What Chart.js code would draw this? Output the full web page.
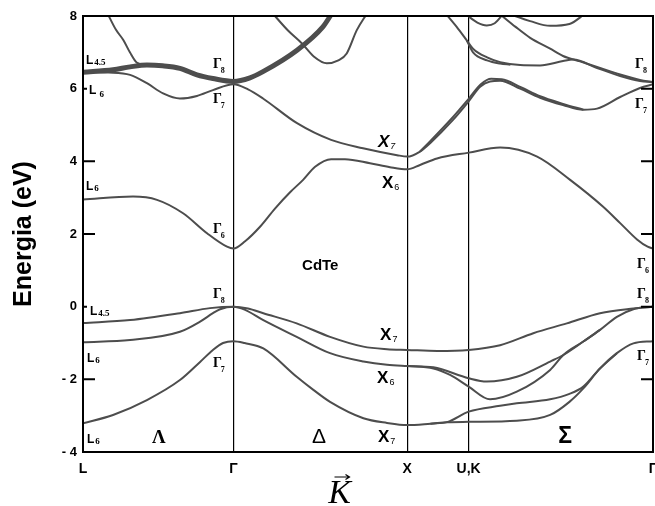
<!DOCTYPE html>
<html>
<head>
<meta charset="utf-8">
<script src="https://cdn.jsdelivr.net/npm/chart.js@4.4.0/dist/chart.umd.min.js"></script>
<style>
  html, body { margin: 0; padding: 0; background: #fff; }
  #caja { width: 655px; height: 506px; }
</style>
</head>
<body>
<div id="caja"><canvas id="bandas" width="655" height="506"></canvas></div>
<script>
// camino en k (unidades de 2pi/a): L - Gamma - X - U,K - Gamma
const kPuntos = [0, 0.866, 1.866, 2.220, 3.281];
const kNombres = ['L', 'Γ', 'X', 'U,K', 'Γ'];
const eTicks = [8, 6, 4, 2, 0, -2, -4];
const ticksCortos = [6, 0];

/****************** bandas de valencia ******************/
const vHH = [[0,-0.45],[0.271,-0.37],[0.558,-0.18],[0.731,-0.04],[0.866,0],
  [0.95,-0.05],[1.038,-0.18],[1.230,-0.46],[1.422,-0.83],[1.614,-1.10],[1.75,-1.17],[1.866,-1.19],
  [2.04,-1.22],[2.22,-1.19],[2.401,-1.06],[2.592,-0.73],[2.785,-0.46],[2.976,-0.18],[3.168,-0.05],[3.281,0]];
const vLHa = [[0,-0.98],[0.271,-0.92],[0.558,-0.69],[0.674,-0.41],[0.748,-0.18],[0.789,-0.07],[0.866,0],
  [0.93,-0.08],[1.038,-0.37],[1.230,-0.83],[1.422,-1.28],[1.614,-1.51],[1.75,-1.6],[1.866,-1.63],
  [2.017,-1.67],[2.22,-1.97],[2.324,-2.06],[2.497,-1.93],[2.689,-1.51],[2.765,-1.33],
  [2.880,-0.96],[2.976,-0.64],[3.073,-0.28],[3.168,-0.07],[3.281,0]];
const vLHb = [[1.866,-1.63],[2.017,-1.70],[2.113,-1.88],[2.22,-2.2],[2.343,-2.55],[2.497,-2.34],
  [2.689,-1.74],[2.765,-1.33],[2.880,-0.96],[2.976,-0.64]];
const vSOa = [[0,-3.21],[0.173,-2.98],[0.368,-2.57],[0.558,-2.02],[0.674,-1.52],[0.748,-1.19],[0.806,-1.0],[0.866,-0.95],
  [0.93,-1.0],[1.038,-1.15],[1.230,-1.93],[1.326,-2.29],[1.422,-2.62],[1.614,-3.07],[1.75,-3.2],[1.866,-3.26],
  [2.0,-3.22],[2.10,-3.18],[2.22,-3.17],[2.497,-3.14],[2.689,-2.98],[2.80,-2.62],[2.88,-2.25],
  [2.976,-1.70],[3.073,-1.28],[3.168,-1.01],[3.281,-0.95]];
const vSOb = [[2.0,-3.22],[2.10,-3.17],[2.22,-2.89],[2.401,-2.73],[2.497,-2.66],[2.689,-2.55],[2.80,-2.40],
  [2.88,-2.2],[2.976,-1.70],[3.073,-1.28]];

/****************** bandas de conduccion ******************/
const c1 = [[0,2.95],[0.288,3.03],[0.426,2.94],[0.576,2.57],[0.714,2.02],[0.829,1.65],[0.866,1.6],
  [0.933,1.8],[1.019,2.2],[1.105,2.7],[1.192,3.15],[1.267,3.49],[1.336,3.85],[1.428,4.06],[1.508,4.06],
  [1.652,3.95],[1.767,3.84],[1.866,3.78],[1.940,3.9],[2.038,4.08],[2.220,4.24],[2.401,4.38],[2.614,4.13],
  [2.804,3.49],[2.994,2.75],[3.092,2.3],[3.189,1.85],[3.250,1.65],[3.281,1.6]];
const c2 = [[0,6.45],[0.173,6.44],[0.271,6.38],[0.368,6.15],[0.461,5.87],[0.558,5.73],[0.656,5.8],[0.748,5.96],[0.866,6.12],
  [0.95,5.98],[1.036,5.73],[1.232,5.05],[1.428,4.59],[1.612,4.36],[1.808,4.17],[1.866,4.13],
  [1.940,4.27],[1.998,4.5],[2.130,5.14],[2.220,5.65],[2.286,6.05],[2.343,6.2],[2.401,6.22],[2.516,6.0],
  [2.631,5.75],[2.763,5.55],[2.880,5.42],[2.959,5.45],[3.092,5.77],[3.206,6.02],[3.281,6.12]];
const c2b = [[1.940,4.27],[2.0,4.56],[2.13,5.22],[2.22,5.72],[2.29,6.12],[2.35,6.27],[2.41,6.26],[2.52,6.04],
  [2.631,5.79],[2.763,5.58],[2.880,5.42]];
const g8 = [[0,6.45],[0.173,6.52],[0.271,6.6],[0.368,6.65],[0.458,6.63],[0.558,6.56],[0.656,6.38],[0.748,6.28],[0.866,6.2],
  [0.961,6.3],[1.036,6.47],[1.232,7.06],[1.382,7.71],[1.43,8.05]];
const cL = [[0.140,8.08],[0.190,7.62],[0.232,7.34],[0.27,7.0],[0.309,6.72],[0.368,6.65]];
const cD = [[1.090,8.08],[1.18,7.6],[1.259,7.25],[1.33,6.88],[1.403,6.7],[1.47,6.78],[1.518,6.97],[1.576,7.61],[1.636,8.08]];
const cU1 = [[2.085,8.08],[2.151,7.70],[2.209,7.33],[2.245,7.1],[2.326,6.86],[2.401,6.73],[2.516,6.65],[2.631,6.64],
  [2.763,6.76],[2.821,6.8],[2.959,6.57],[3.092,6.35],[3.206,6.21],[3.281,6.18]];
const cU1b = [[2.209,7.33],[2.245,7.0],[2.326,6.78],[2.401,6.69],[2.46,6.66]];
const cU2 = [[2.40,8.05],[2.49,7.7],[2.574,7.4],[2.689,7.1],[2.763,6.9],[2.861,6.75],[2.959,6.6],[3.092,6.39],[3.206,6.24],[3.281,6.18]];
const cT1 = [[2.20,8.06],[2.27,7.82],[2.324,7.74],[2.37,7.8],[2.42,8.06]];
const cT2 = [[2.45,8.06],[2.574,7.86],[2.689,7.73],[2.80,7.78],[2.89,8.06]];

// etiquetas de simetria: texto, subindice, k, E, tipo
const etiquetas = [
  ['L', '4.5', 0.017, 6.68, 'L'],
  ['L', '6', 0.035, 5.85, 'L2'],
  ['Γ', '8', 0.748, 6.57, 'G'],
  ['Γ', '7', 0.748, 5.61, 'G'],
  ['L', '6', 0.017, 3.21, 'L'],
  ['Γ', '6', 0.748, 2.03, 'G'],
  ['X', '7', 1.698, 4.39, 'Xi'],
  ['X', '6', 1.721, 3.27, 'X'],
  ['Γ', '8', 3.178, 6.57, 'G'],
  ['Γ', '7', 3.178, 5.47, 'G'],
  ['CdTe', '', 1.261, 1.01, 'T'],
  ['Γ', '6', 3.189, 1.06, 'G'],
  ['Γ', '8', 3.189, 0.24, 'G'],
  ['Γ', '7', 3.189, -1.47, 'G'],
  ['L', '4.5', 0.040, -0.23, 'L'],
  ['Γ', '8', 0.748, 0.24, 'G'],
  ['L', '6', 0.023, -1.52, 'L'],
  ['Γ', '7', 0.748, -1.66, 'G'],
  ['L', '6', 0.023, -3.75, 'L'],
  ['Λ', '', 0.397, -3.75, 'Lam'],
  ['Δ', '', 1.318, -3.75, 'Del'],
  ['X', '7', 1.698, -3.73, 'X'],
  ['X', '7', 1.710, -0.92, 'X'],
  ['X', '6', 1.693, -2.10, 'X'],
  ['Σ', '', 2.735, -3.75, 'Sig']
];

const tipos = {
  L:   { f: 'bold 12px "Liberation Sans"', fs: 'bold 9px "Liberation Serif"', dx: 1, dy: 1 },
  L2:  { f: 'bold 12px "Liberation Sans"', fs: 'bold 9px "Liberation Serif"', dx: 3, dy: 3 },
  G:   { f: 'bold 14px "Liberation Serif"', fs: 'bold 8px "Liberation Serif"', dx: -1, dy: 5 },
  X:   { f: 'bold 17px "Liberation Sans"', fs: '9px "Liberation Sans"', dx: 1, dy: 2 },
  Xi:  { f: 'italic bold 17px "Liberation Sans"', fs: 'italic 9px "Liberation Sans"', dx: 1, dy: 2 },
  T:   { f: 'bold 15px "Liberation Sans"' },
  Lam: { f: 'bold 19px "Liberation Serif"' },
  Del: { f: '21px "Liberation Sans"' },
  Sig: { f: 'bold 23px "Liberation Sans"' }
};

const bandas = [
  { p: g8, w: 5 }, { p: cL, w: 2 }, { p: cD, w: 2 },
  { p: c2, w: 2 }, { p: c2b, w: 2 }, { p: c1, w: 2 },
  { p: cU1, w: 2 }, { p: cU1b, w: 2 }, { p: cU2, w: 2 }, { p: cT1, w: 2 }, { p: cT2, w: 2 },
  { p: vHH, w: 2 }, { p: vLHa, w: 2 }, { p: vLHb, w: 2 }, { p: vSOa, w: 2 }, { p: vSOb, w: 2 }
];

/****************** marco, marcas y etiquetas ******************/
const marco = {
  id: 'marco',
  afterDraw(chart) {
    const ctx = chart.ctx, a = chart.chartArea;
    const sx = chart.scales.x, sy = chart.scales.y;
    ctx.save();
    ctx.strokeStyle = '#000';
    ctx.lineWidth = 2;
    ctx.strokeRect(a.left, a.top, a.right - a.left, a.bottom - a.top);
    eTicks.forEach(v => {
      const y = sy.getPixelForValue(v);
      const l = ticksCortos.includes(v) ? 4 : 12;
      ctx.beginPath();
      ctx.moveTo(a.left, y); ctx.lineTo(a.left + l, y);
      ctx.moveTo(a.right, y); ctx.lineTo(a.right - 12, y);
      ctx.stroke();
    });

    ctx.fillStyle = '#000';
    ctx.textAlign = 'left';
    ctx.textBaseline = 'alphabetic';
    etiquetas.forEach(e => {
      const t = tipos[e[4]];
      const x = sx.getPixelForValue(e[2]), y = sy.getPixelForValue(e[3]);
      ctx.font = t.f;
      ctx.fillText(e[0], x, y);
      if (e[1]) {
        const w = ctx.measureText(e[0]).width;
        ctx.font = t.fs;
        ctx.fillText(e[1], x + w + t.dx, y + t.dy);
      }
    });

    // vector K bajo el eje
    const kx = a.left + 0.45 * (a.right - a.left);
    ctx.font = 'italic 34px "Liberation Serif"';
    ctx.textAlign = 'center';
    ctx.fillText('K', kx, 503);
    ctx.lineWidth = 1.2;
    ctx.beginPath();
    ctx.moveTo(kx - 5, 477); ctx.lineTo(kx + 10, 477);
    ctx.moveTo(kx + 6, 474.5); ctx.lineTo(kx + 10, 477); ctx.lineTo(kx + 6, 479.5);
    ctx.stroke();
    ctx.restore();
  }
};

var ctx = document.getElementById('bandas').getContext('2d');
var grafico = new Chart(ctx, {
  type: 'line',
  data: {
    datasets: bandas.map(b => ({
      data: b.p.map(q => ({ x: q[0], y: q[1] })),
      borderColor: '#4d4d4d',
      borderWidth: b.w,
      pointRadius: 0,
      fill: false,
      cubicInterpolationMode: 'monotone'
    }))
  },
  options: {
    responsive: false,
    animation: false,
    layout: { padding: { top: 16, right: 2, left: 0, bottom: 0 } },
    plugins: { legend: { display: false }, tooltip: { enabled: false } },
    scales: {
      x: {
        type: 'linear',
        min: 0,
        max: kPuntos[kPuntos.length - 1],
        afterBuildTicks: s => { s.ticks = kPuntos.map(v => ({ value: v })); },
        afterFit: s => { s.height = 54; s.paddingLeft = 0; s.paddingRight = 0; },
        grid: { color: '#000', lineWidth: 1.2, drawTicks: false },
        border: { display: false },
        ticks: {
          padding: 9,
          color: '#000',
          autoSkip: false,
          maxRotation: 0,
          font: { family: '"Liberation Sans", Arial', size: 14, weight: 'bold' },
          callback: (v, i) => kNombres[i]
        }
      },
      y: {
        min: -4,
        max: 8,
        afterBuildTicks: s => { s.ticks = eTicks.map(v => ({ value: v })); },
        afterFit: s => { s.width = 83; s.paddingTop = 0; s.paddingBottom = 0; },
        grid: { display: false, drawTicks: false },
        border: { display: false },
        ticks: {
          padding: 6,
          color: '#000',
          font: { family: '"Liberation Sans", Arial', size: 13, weight: 'bold' },
          callback: v => v < 0 ? '- ' + Math.abs(v) : String(v)
        },
        title: {
          display: true,
          text: 'Energia (eV)',
          color: '#000',
          font: { family: '"Liberation Sans", Arial', size: 25, weight: 'bold' },
          padding: { top: 9, bottom: 0 }
        }
      }
    }
  },
  plugins: [marco]
});
</script>
</body>
</html>
